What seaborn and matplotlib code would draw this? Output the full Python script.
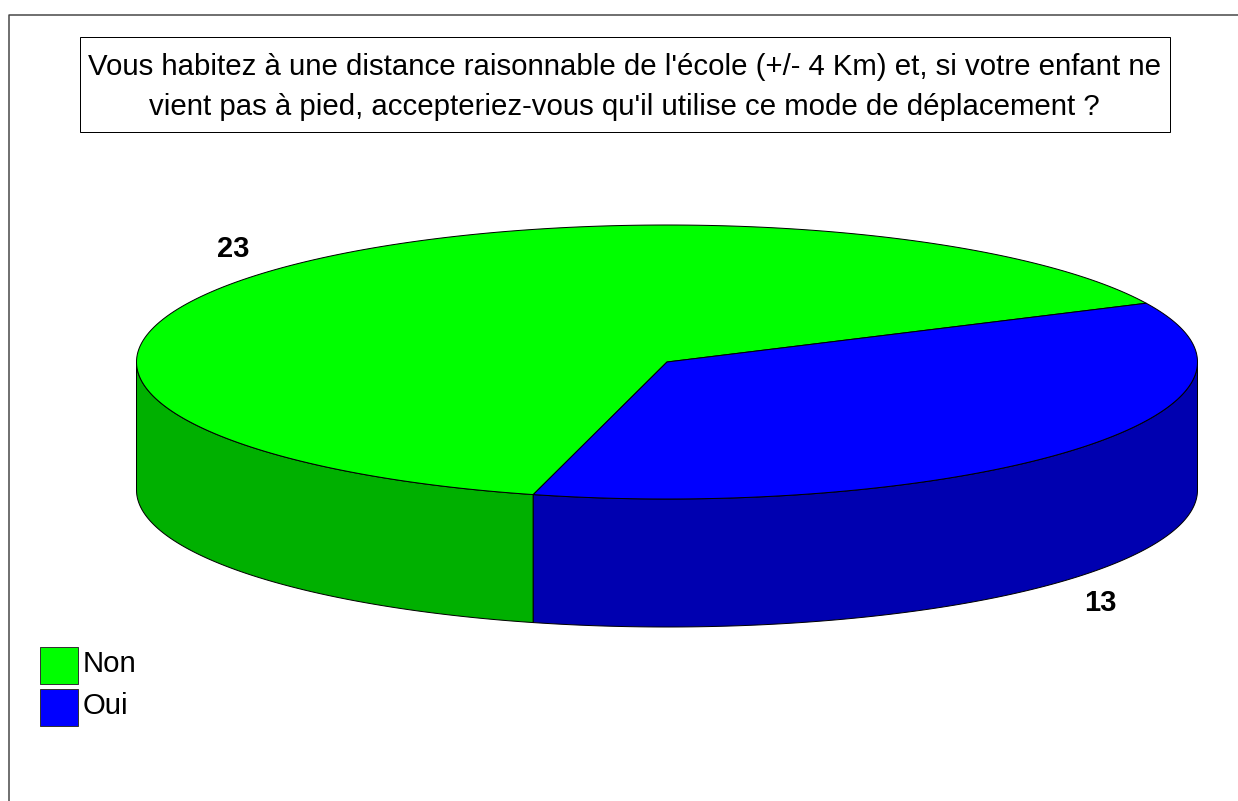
import numpy as np
import matplotlib
matplotlib.use("Agg")
import matplotlib.pyplot as plt
import seaborn as sns
from matplotlib.patches import Polygon, Rectangle

# Data
categories = ["Non", "Oui"]
counts = [23, 13]
top_colors = ["#00ff00", "#0000ff"]
side_colors = ["#00b000", "#0000b0"]
title = ("Vous habitez à une distance raisonnable de l'école (+/- 4 Km) et, si votre enfant ne\n"
         "vient pas à pied, accepteriez-vous qu'il utilise ce mode de déplacement ?")

sns.set_theme(style="white")
plt.rcParams['font.family'] = ['Liberation Sans', 'DejaVu Sans']
plt.rcParams['text.color'] = 'black'

W, H = 1238, 801
fig = plt.figure(figsize=(W / 100, H / 100), dpi=100)
ax = fig.add_axes([0, 0, 1, 1])
ax.set_xlim(0, W)
ax.set_ylim(H, 0)
ax.axis('off')

# pie geometry (pixels)
cx, cy = 667, 362
rx, ry = 530.5, 137
depth = 128
start = 25.4
px = 0.72  # points per pixel


def arc(a1, a2, dy=0, n=200):
    t = np.radians(np.linspace(a1, a2, n))
    return np.column_stack([cx + rx * np.cos(t), cy - ry * np.sin(t) + dy])


total = sum(counts)
spans = [c / total * 360 for c in counts]
edges = start + np.concatenate([[0], np.cumsum(spans)])

# side walls (only front half visible: angles 180..360)
for i in range(len(counts)):
    a1, a2 = edges[i], edges[i + 1]
    for k in range(-1, 2):
        lo = max(a1, 180 + 360 * k)
        hi = min(a2, 360 + 360 * k)
        if hi > lo:
            top = arc(lo, hi)
            bot = arc(hi, lo, dy=depth)
            ax.add_patch(Polygon(np.vstack([top, bot]), closed=True,
                                 facecolor=side_colors[i], edgecolor='black',
                                 linewidth=1 * px, zorder=2))

# top face
for i in range(len(counts)):
    pts = np.vstack([[cx, cy], arc(edges[i], edges[i + 1])])
    ax.add_patch(Polygon(pts, closed=True, facecolor=top_colors[i],
                         edgecolor='black', linewidth=1 * px, zorder=3))

# value labels
ax.text(233, 249, str(counts[0]), fontsize=21, fontweight='bold',
        ha='center', va='center', zorder=4)
ax.text(1100, 603, str(counts[1]), fontsize=21, fontweight='bold',
        ha='center', va='center', zorder=4)

# title box
ax.add_patch(Rectangle((80, 37), 1090, 95, facecolor='white',
                       edgecolor='black', linewidth=1 * px, zorder=4))
ax.text(624, 87, title, fontsize=21.2, ha='center', va='center',
        linespacing=1.58, zorder=5)

# outer frame
ax.plot([9, 9, W], [H, 15, 15], color='#444444', linewidth=1.5 * px,
        solid_capstyle='butt', zorder=1)

# legend
for i, (lab, col) in enumerate(zip(categories, top_colors)):
    y0 = 647 + i * 42
    ax.add_patch(Rectangle((40, y0), 38, 37, facecolor=col,
                           edgecolor='#333333', linewidth=1 * px, zorder=4))
    ax.text(83, y0 + 17, lab, fontsize=21.2, ha='left', va='center', zorder=4)

fig.savefig("out.png", dpi=100)
